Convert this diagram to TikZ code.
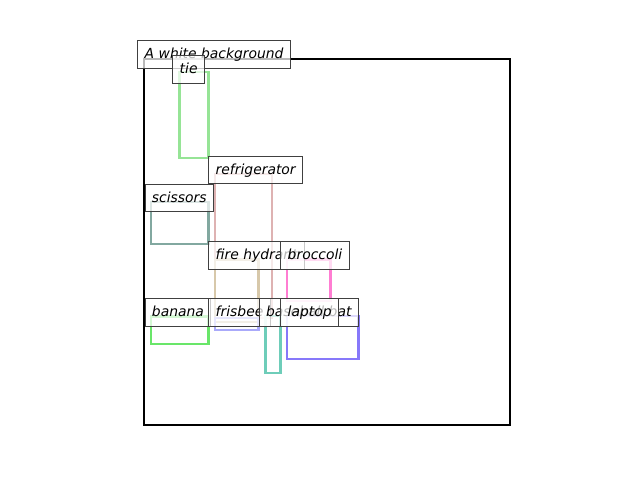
\documentclass[tikz,border=0pt]{standalone}
\usepackage{fontspec}
\setmainfont{DejaVu Sans}

\definecolor{tiecol}{RGB}{150,228,150}
\definecolor{fridgecol}{RGB}{222,178,178}
\definecolor{sciscol}{RGB}{130,168,160}
\definecolor{hydrantcol}{RGB}{215,200,170}
\definecolor{broccol}{RGB}{255,125,210}
\definecolor{bananacol}{RGB}{105,230,105}
\definecolor{frisbeecol}{RGB}{170,170,250}
\definecolor{batcol}{RGB}{110,205,185}
\definecolor{laptopcol}{RGB}{135,120,250}

\tikzset{
  objbox/.style={line width=1.5pt},
  tag/.style={draw=black!75, line width=0.72pt, fill=white, fill opacity=0.72,
    text opacity=1, anchor=north west, inner xsep=5pt, inner ysep=4.4pt,
    text height=8.6pt, text depth=2.4pt, font=\itshape\fontsize{10}{12}\selectfont}
}

\begin{document}
\begin{tikzpicture}[x=0.72pt,y=-0.72pt]
\useasboundingbox (0,0) rectangle (640,480);

\draw[line width=1.44pt] (144,59) rectangle (510,425);

\draw[objbox,tiecol] (179.5,72) rectangle (208.5,158);
\draw[objbox,fridgecol] (215,174) rectangle (272,318);
\draw[objbox,sciscol] (151,202) rectangle (208.5,244);
\draw[objbox,hydrantcol] (215,259.5) rectangle (258.5,322);
\draw[objbox,broccol] (287,259.5) rectangle (330.5,301);
\draw[objbox,bananacol] (151,316.5) rectangle (208.5,344);
\draw[objbox,frisbeecol] (215,318) rectangle (258.5,330);
\draw[objbox,batcol] (265.5,316) rectangle (280.5,373);
\draw[objbox,laptopcol] (287,316) rectangle (358.5,359);

\node[tag] (bg) at (137.3,40) {A white background};
\node[tag] (tie) at (172.3,55) {tie};
\node[tag] (fridge) at (208.3,155.5) {refrigerator};
\node[tag] (scissors) at (144.5,183.5) {scissors};
\node[tag] (hydrant) at (208.3,241) {fire hydrant};
\node[tag] (broccoli) at (280.3,241) {broccoli};
\node[tag] (banana) at (144.5,298.3) {banana};
\node[tag] (frisbee) at (208.3,298.3) {frisbee};
\node[tag] (bat) at (258.7,298.3) {baseball bat};
\node[tag] (laptop) at (280.3,298.3) {laptop};
\end{tikzpicture}
\end{document}
